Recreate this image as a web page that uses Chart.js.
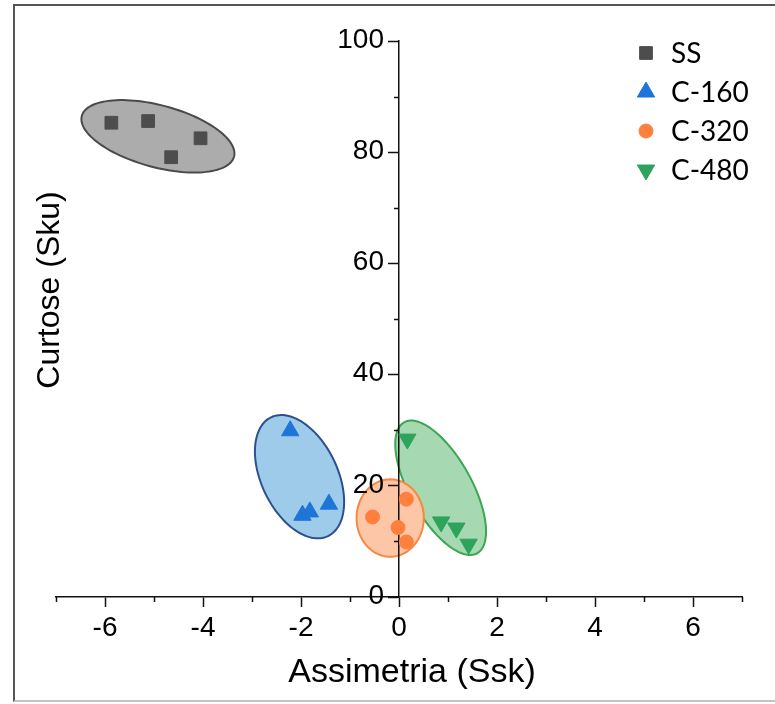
<!DOCTYPE html>
<html>
<head>
<meta charset="utf-8">
<script src="https://cdn.jsdelivr.net/npm/chart.js@4.4.1/dist/chart.umd.min.js"></script>
<style>
  html, body { margin: 0; padding: 0; background: #fff; overflow: hidden; }
  #wrap { position: relative; width: 775px; height: 704px; }
  #frame {
    position: absolute; left: 13px; top: 4px; width: 800px; height: 694px;
    border-left: 2px solid #555; border-top: 2px solid #555; border-bottom: 2px solid #c4c4c4;
  }
  canvas { position: absolute; left: 0; top: 0; }
</style>
</head>
<body>
<div id="wrap">
  <div id="frame"></div>
  <canvas id="chart" width="775" height="704"></canvas>
</div>
<script>
// valori
const seriesNames = ['SS', 'C-160', 'C-320', 'C-480'];
const ssX = [-5.87, -5.12, -4.05, -4.65];
const ssY = [85.3, 85.6, 82.5, 79.1];
const c160X = [-2.22, -1.97, -1.82, -1.43];
const c160Y = [29.9, 14.7, 15.3, 16.7];
const c320X = [0.15, -0.54, -0.02, 0.15];
const c320Y = [17.6, 14.4, 12.5, 9.9];
const c480X = [0.17, 0.86, 1.17, 1.42];
const c480Y = [28.4, 13.5, 12.4, 9.5];

const xTickLabels = [-6, -4, -2, 0, 2, 4, 6];
const yTickLabels = [0, 20, 40, 60, 80, 100];

// ellissi di raggruppamento (unità dei dati): centro e due semiassi coniugati
const ellipseCenters = [[-4.92, 82.86], [-2.03, 21.64], [-0.18, 14.2], [0.85, 19.64]];
const ellipseAxisA = [[1.553, -3.67], [0.582, -10.68], [0.686, 0], [0.745, -11.78]];
const ellipseAxisB = [[-0.163, -5.38], [-0.700, -2.98], [0, 6.96], [-0.551, -2.72]];

const markerColors = ['#4d4d4d', '#1f74d8', '#ff7f3c', '#2ea35c'];
const ellipseFills = ['#acacac', '#9fcbea', '#fdc6a6', '#a6d8b1'];
const ellipseLines = ['#4a4a4a', '#2c4f8e', '#f6883f', '#3ca654'];
const ellipseOrder = [0, 1, 3, 2];

const axisFont = 'Liberation Sans, Arial, sans-serif';

function toPoints(xs, ys) {
    return xs.map((x, i) => ({ x: x, y: ys[i] }));
}

const datasets = [
    { label: seriesNames[0], data: toPoints(ssX, ssY), pointStyle: 'rect', pointRadius: 9, rotation: 0 },
    { label: seriesNames[1], data: toPoints(c160X, c160Y), pointStyle: 'triangle', pointRadius: 10, rotation: 0 },
    { label: seriesNames[2], data: toPoints(c320X, c320Y), pointStyle: 'circle', pointRadius: 7, rotation: 0 },
    { label: seriesNames[3], data: toPoints(c480X, c480Y), pointStyle: 'triangle', pointRadius: 10, rotation: 180 }
].map((ds, i) => Object.assign(ds, {
    backgroundColor: markerColors[i],
    borderColor: markerColors[i],
    borderWidth: 1,
    pointHoverRadius: ds.pointRadius,
    showLine: false
}));

// ellissi sotto gli assi
const ellipsePlugin = {
    id: 'ellipses',
    beforeDraw(chart) {
        const { ctx } = chart;
        const xs = chart.scales.x, ys = chart.scales.y;
        ctx.save();
        ellipseOrder.forEach(i => {
            const [cx, cy] = ellipseCenters[i];
            const a = ellipseAxisA[i], b = ellipseAxisB[i];
            ctx.beginPath();
            for (let k = 0; k <= 120; k++) {
                const t = k / 120 * Math.PI * 2;
                const px = xs.getPixelForValue(cx + Math.cos(t) * a[0] + Math.sin(t) * b[0]);
                const py = ys.getPixelForValue(cy + Math.cos(t) * a[1] + Math.sin(t) * b[1]);
                if (k === 0) ctx.moveTo(px, py); else ctx.lineTo(px, py);
            }
            ctx.closePath();
            ctx.fillStyle = ellipseFills[i];
            ctx.fill();
            ctx.lineWidth = 2;
            ctx.strokeStyle = ellipseLines[i];
            ctx.stroke();
        });
        ctx.restore();
    }
};

// tacche minori, etichette dell'asse y, titoli e legenda
const decorPlugin = {
    id: 'decor',
    afterDraw(chart) {
        const { ctx, chartArea } = chart;
        const xs = chart.scales.x, ys = chart.scales.y;
        ctx.save();
        ctx.strokeStyle = '#111';
        ctx.lineWidth = 1.5;
        xs.ticks.forEach(t => {
            if (xTickLabels.includes(t.value)) return;
            const px = Math.round(xs.getPixelForValue(t.value)) + 0.5;
            ctx.beginPath();
            ctx.moveTo(px, chartArea.bottom);
            ctx.lineTo(px, chartArea.bottom + 5);
            ctx.stroke();
        });
        const x0 = xs.getPixelForValue(0);
        ys.ticks.forEach(t => {
            if (yTickLabels.includes(t.value)) return;
            const py = Math.round(ys.getPixelForValue(t.value)) + 0.5;
            ctx.beginPath();
            ctx.moveTo(x0 - 5, py);
            ctx.lineTo(x0, py);
            ctx.stroke();
        });

        // etichette y a sinistra dell'asse centrato
        ctx.fillStyle = '#000';
        ctx.font = '28px ' + axisFont;
        ctx.textAlign = 'right';
        ctx.textBaseline = 'middle';
        ys.ticks.forEach(t => {
            if (!yTickLabels.includes(t.value)) return;
            ctx.fillText(String(t.value), x0 - 15, ys.getPixelForValue(t.value) - 1);
        });

        // titoli
        ctx.textAlign = 'center';
        ctx.font = '34px ' + axisFont;
        ctx.fillText('Assimetria (Ssk)', 412, 673);
        ctx.translate(50, 290);
        ctx.rotate(-Math.PI / 2);
        ctx.font = '32px ' + axisFont;
        ctx.fillText('Curtose (Sku)', 0, 0);
        ctx.setTransform(1, 0, 0, 1, 0, 0);

        // legenda
        ctx.textAlign = 'left';
        chart.data.datasets.forEach((ds, i) => {
            const ly = 53 + i * 39;
            ctx.fillStyle = markerColors[i];
            ctx.strokeStyle = markerColors[i];
            ctx.lineWidth = 1;
            Chart.helpers.drawPoint(ctx, {
                pointStyle: ds.pointStyle,
                rotation: ds.rotation,
                radius: ds.pointRadius,
                borderWidth: 1
            }, 646, ly);
            ctx.fillStyle = '#000';
            ctx.font = '28px Lato, "Open Sans", sans-serif';
            ctx.fillText(ds.label, 671, ly + 1);
        });
        ctx.restore();
    }
};

const tickFont = { family: axisFont, size: 28 };

new Chart(document.getElementById('chart'), {
    type: 'scatter',
    data: { datasets: datasets },
    options: {
        responsive: false,
        animation: false,
        devicePixelRatio: 1,
        layout: { padding: { left: 56, right: 33, top: 41, bottom: 55 } },
        plugins: {
            legend: { display: false },
            tooltip: { enabled: false }
        },
        scales: {
            x: {
                type: 'linear',
                position: 'bottom',
                min: -7,
                max: 7,
                afterFit: scale => { scale.height = 52; },
                ticks: {
                    stepSize: 1,
                    autoSkip: false,
                    maxRotation: 0,
                    padding: 4,
                    color: '#000',
                    font: tickFont,
                    callback: v => xTickLabels.includes(v) ? String(v) : ''
                },
                grid: {
                    drawOnChartArea: false,
                    tickLength: 10,
                    tickWidth: 1.5,
                    tickColor: c => xTickLabels.includes(c.tick.value) ? '#111' : 'rgba(0,0,0,0)'
                },
                border: { display: true, color: '#111', width: 1.5 }
            },
            y: {
                type: 'linear',
                position: { x: 0 },
                min: 0,
                max: 100,
                ticks: {
                    stepSize: 10,
                    autoSkip: false,
                    display: false
                },
                grid: {
                    drawOnChartArea: false,
                    tickLength: 10,
                    tickWidth: 1.5,
                    tickColor: c => yTickLabels.includes(c.tick.value) ? '#111' : 'rgba(0,0,0,0)'
                },
                border: { display: true, color: '#111', width: 1.5 }
            }
        }
    },
    plugins: [ellipsePlugin, decorPlugin]
});
</script>
</body>
</html>
